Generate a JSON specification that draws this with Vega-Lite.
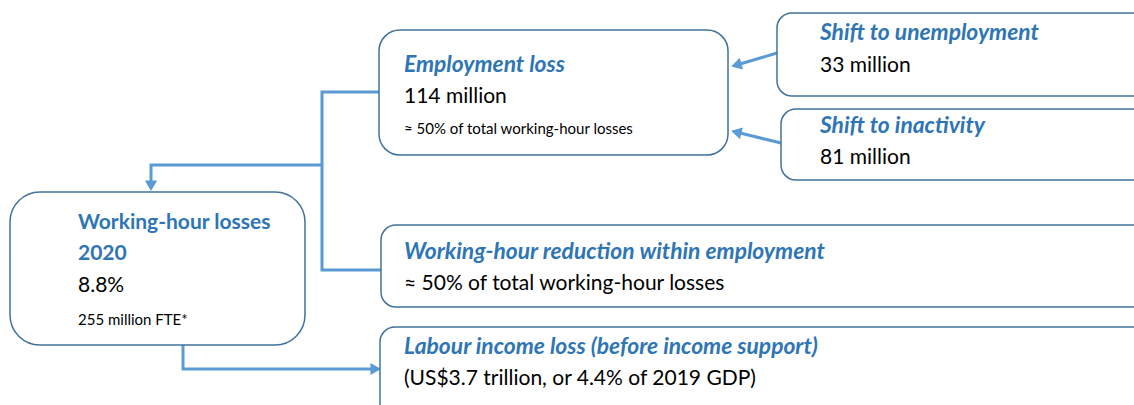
{
  "$schema": "https://vega.github.io/schema/vega-lite/v6.json",
  "width": 1134,
  "height": 405,
  "autosize": "none",
  "padding": 0,
  "background": "white",
  "config": {"view": {"stroke": null}},
  "datasets": {
    "boxes": [
      {"box": "Working-hour losses 2020", "x": 10, "x2": 305, "y": 192, "y2": 345, "shape": "large"},
      {"box": "Employment loss", "x": 379, "x2": 728, "y": 30, "y2": 155, "shape": "medium"},
      {"box": "Shift to unemployment", "x": 777, "x2": 1150, "y": 13, "y2": 96, "shape": "small"},
      {"box": "Shift to inactivity", "x": 781, "x2": 1150, "y": 109, "y2": 180, "shape": "small"},
      {"box": "Working-hour reduction within employment", "x": 381, "x2": 1150, "y": 225, "y2": 307, "shape": "small"},
      {"box": "Labour income loss", "x": 380, "x2": 1150, "y": 327, "y2": 420, "shape": "small"}
    ],
    "paths": [
      {"path": "split", "ord": 1, "x": 379, "y": 92},
      {"path": "split", "ord": 2, "x": 322, "y": 92},
      {"path": "split", "ord": 3, "x": 322, "y": 270},
      {"path": "split", "ord": 4, "x": 381, "y": 270},
      {"path": "total", "ord": 1, "x": 322, "y": 165},
      {"path": "total", "ord": 2, "x": 151, "y": 165},
      {"path": "total", "ord": 3, "x": 151, "y": 182},
      {"path": "income", "ord": 1, "x": 183, "y": 345},
      {"path": "income", "ord": 2, "x": 183, "y": 369},
      {"path": "income", "ord": 3, "x": 372, "y": 369},
      {"path": "unemp", "ord": 1, "x": 777, "y": 53},
      {"path": "unemp", "ord": 2, "x": 740, "y": 64},
      {"path": "inact", "ord": 1, "x": 781, "y": 143},
      {"path": "inact", "ord": 2, "x": 740, "y": 133}
    ],
    "arrows": [
      {"dir": "down", "x": 151, "y": 184},
      {"dir": "right", "x": 374, "y": 369},
      {"dir": "downleft", "x": 738, "y": 64.5},
      {"dir": "upleft", "x": 738, "y": 132.5}
    ],
    "labels": [
      {"kind": "title", "x": 78, "y": 229, "text": "Working-hour losses"},
      {"kind": "title", "x": 78, "y": 260, "text": "2020"},
      {"kind": "value", "x": 78, "y": 292, "text": "8.8%"},
      {"kind": "note", "x": 78, "y": 325, "text": "255 million FTE*"},
      {"kind": "heading", "x": 404, "y": 72, "text": "Employment loss"},
      {"kind": "value", "x": 404, "y": 103, "text": "114 million"},
      {"kind": "note", "x": 404, "y": 134, "text": "≈ 50% of total working-hour losses"},
      {"kind": "heading", "x": 820, "y": 40, "text": "Shift to unemployment"},
      {"kind": "value", "x": 820, "y": 72, "text": "33 million"},
      {"kind": "heading", "x": 820, "y": 133, "text": "Shift to inactivity"},
      {"kind": "value", "x": 820, "y": 164, "text": "81 million"},
      {"kind": "heading", "x": 404, "y": 259, "text": "Working-hour reduction within employment"},
      {"kind": "value", "x": 404, "y": 290, "text": "≈ 50% of total working-hour losses"},
      {"kind": "heading", "x": 404, "y": 354, "text": "Labour income loss (before income support)"},
      {"kind": "value", "x": 404, "y": 385, "text": "(US$3.7 trillion, or 4.4% of 2019 GDP)"}
    ]
  },
  "encoding": {
    "x": {"field": "x", "type": "quantitative", "scale": {"domain": [0, 1134], "nice": false, "zero": false}, "axis": null},
    "y": {"field": "y", "type": "quantitative", "scale": {"domain": [0, 405], "nice": false, "zero": false, "reverse": true}, "axis": null}
  },
  "layer": [
    {
      "data": {"name": "paths"},
      "mark": {"type": "line", "color": "#5B9BD5", "strokeWidth": 3, "strokeCap": "butt", "strokeJoin": "miter", "clip": true},
      "encoding": {"detail": {"field": "path"}, "order": {"field": "ord", "type": "quantitative"}}
    },
    {
      "data": {"name": "arrows"},
      "mark": {"type": "point", "shape": "triangle", "filled": true, "color": "#5B9BD5", "opacity": 1, "size": 150},
      "encoding": {
        "angle": {"field": "dir", "type": "nominal", "scale": {"type": "ordinal", "domain": ["down", "right", "downleft", "upleft"], "range": [180, 90, 254, 284]}, "legend": null}
      }
    },
    {
      "data": {"name": "boxes"},
      "transform": [{"filter": "datum.shape === 'large'"}],
      "mark": {"type": "rect", "fill": "white", "stroke": "#41719C", "strokeWidth": 1.5, "cornerRadius": 30, "clip": true},
      "encoding": {"x2": {"field": "x2"}, "y2": {"field": "y2"}}
    },
    {
      "data": {"name": "boxes"},
      "transform": [{"filter": "datum.shape === 'medium'"}],
      "mark": {"type": "rect", "fill": "white", "stroke": "#41719C", "strokeWidth": 1.5, "cornerRadius": 21, "clip": true},
      "encoding": {"x2": {"field": "x2"}, "y2": {"field": "y2"}}
    },
    {
      "data": {"name": "boxes"},
      "transform": [{"filter": "datum.shape === 'small'"}],
      "mark": {"type": "rect", "fill": "white", "stroke": "#41719C", "strokeWidth": 1.5, "cornerRadius": 15, "clip": true},
      "encoding": {"x2": {"field": "x2"}, "y2": {"field": "y2"}}
    },
    {
      "data": {"name": "labels"},
      "transform": [{"filter": "datum.kind === 'title'"}],
      "mark": {"type": "text", "align": "left", "baseline": "alphabetic", "font": "Lato", "fontSize": 21, "fontWeight": "bold", "color": "#2E75B6"},
      "encoding": {"text": {"field": "text"}}
    },
    {
      "data": {"name": "labels"},
      "transform": [{"filter": "datum.kind === 'heading'"}],
      "mark": {"type": "text", "align": "left", "baseline": "alphabetic", "font": "Lato", "fontSize": 22.8, "fontWeight": "bold", "fontStyle": "italic", "color": "#2E75B6"},
      "encoding": {"text": {"field": "text"}}
    },
    {
      "data": {"name": "labels"},
      "transform": [{"filter": "datum.kind === 'value'"}],
      "mark": {"type": "text", "align": "left", "baseline": "alphabetic", "font": "Lato", "fontSize": 21, "color": "black"},
      "encoding": {"text": {"field": "text"}}
    },
    {
      "data": {"name": "labels"},
      "transform": [{"filter": "datum.kind === 'note'"}],
      "mark": {"type": "text", "align": "left", "baseline": "alphabetic", "font": "Lato", "fontSize": 15, "color": "black"},
      "encoding": {"text": {"field": "text"}}
    }
  ]
}
